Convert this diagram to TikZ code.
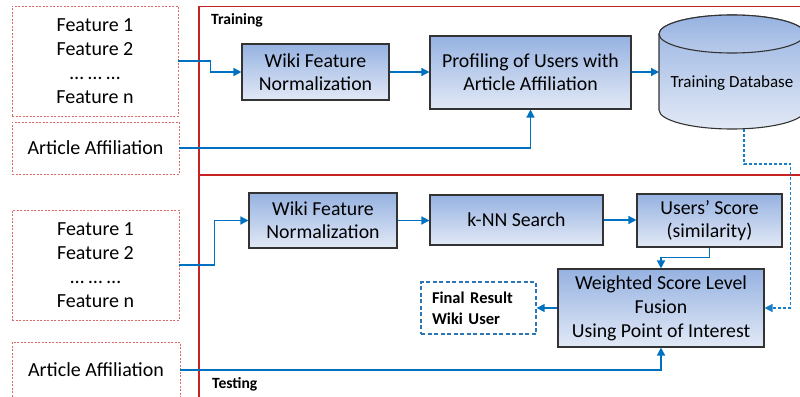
\documentclass[tikz,border=0pt]{standalone}
\usepackage{fontspec}
\setmainfont{Carlito}
\usetikzlibrary{arrows.meta}
\definecolor{connc}{RGB}{0,112,192}
\definecolor{framec}{RGB}{200,35,35}
\definecolor{dashred}{RGB}{222,105,105}
\definecolor{boxtop}{RGB}{150,178,225}
\definecolor{boxbot}{RGB}{226,233,246}
\definecolor{finalc}{RGB}{46,117,182}
\begin{document}
\begin{tikzpicture}[x=1pt,y=-1pt,
  procbox/.style={draw=black!80, line width=1.1pt, top color=boxtop, bottom color=boxbot,
    align=center, font=\fontsize{19.8}{23}\selectfont, inner sep=0pt},
  inbox/.style={draw=dashred, dash pattern=on 2pt off 1.5pt, line width=0.9pt,
    align=center, font=\fontsize{20}{24}\selectfont, inner sep=0pt},
  connector/.style={draw=connc, line width=1.4pt, -{Triangle[length=8pt,width=8pt]}},
  dbline/.style={draw=connc!90!white, line width=1.4pt, dash pattern=on 3pt off 2pt,
    -{Triangle[length=8pt,width=8pt]}},
  framel/.style={draw=framec, line width=1.4pt},
  seclabel/.style={anchor=west, font=\fontsize{15.6}{18}\selectfont\bfseries, inner sep=0pt}
]
\useasboundingbox (0,0) rectangle (800,396);
\clip (0,0) rectangle (800,396);

% frames
\draw[framel] (199,400) -- (199,6.5) -- (810,6.5);
\draw[framel] (199,175) -- (810,175);
\node[seclabel] (trainlbl) at (211,20) {Training};
\node[seclabel] (testlbl) at (212,384) {Testing};

% inputs
\node[inbox, minimum width=166pt, minimum height=110pt] (feat1) at (95,61)
  {Feature 1\\Feature 2\\… … …\\Feature n};
\node[inbox, minimum width=167pt, minimum height=52pt] (art1) at (95.5,148) {Article Affiliation};
\node[inbox, minimum width=167pt, minimum height=110pt] (feat2) at (95.5,265)
  {Feature 1\\Feature 2\\… … …\\Feature n};
\node[inbox, minimum width=168pt, minimum height=56pt] (art2) at (96,370) {Article Affiliation};

% training boxes
\node[procbox, minimum width=147pt, minimum height=56pt] (wfn1) at (315.5,72)
  {Wiki Feature\\Normalization};
\node[procbox, minimum width=201pt, minimum height=73pt] (prof) at (530.5,72.5)
  {Profiling of Users with\\Article Affiliation};

% database cylinder
\path[top color=boxtop, bottom color=boxbot, draw=black!80, line width=1.1pt]
  (659,34) -- (659,110) arc[start angle=180, end angle=0, x radius=73, y radius=19]
  -- (805,34) arc[start angle=0, end angle=-180, x radius=73, y radius=19] -- cycle;
\path[top color=boxtop, bottom color=boxtop!55!boxbot, draw=black!80, line width=1.1pt]
  (659,34) arc[start angle=180, end angle=-180, x radius=73, y radius=19];
\node[font=\fontsize{17}{20}\selectfont, inner sep=0pt] (db) at (732,83) {Training Database};
\coordinate (dbin) at (659,72);
\coordinate (dbout) at (744,129);

% testing boxes
\node[procbox, minimum width=148pt, minimum height=55pt] (wfn2) at (323,220.5)
  {Wiki Feature\\Normalization};
\node[procbox, minimum width=173pt, minimum height=50pt] (knn) at (516.5,220) {k-NN Search};
\node[procbox, minimum width=145pt, minimum height=53pt] (users) at (709.5,220.5)
  {Users’ Score\\(similarity)};
\node[procbox, minimum width=206pt, minimum height=78pt, font=\fontsize{19.8}{24}\selectfont] (weighted) at (661,308)
  {Weighted Score Level\\Fusion\\Using Point of Interest};
\node[draw=finalc, line width=1.3pt, dash pattern=on 4pt off 2.5pt, minimum width=115pt, minimum height=52pt,
  text width=93pt, align=left, inner sep=0pt, font=\fontsize{16.5}{21}\selectfont\bfseries] (final) at (478.5,308)
  {Final Result\\Wiki User};

% connectors training
\draw[connector] (feat1.east) -- ++(32,0) |- (wfn1.west);
\draw[connector] (wfn1.east) -- (prof.west |- wfn1.east);
\draw[connector] (prof.east |- dbin) -- (dbin);
\draw[connector] (art1.east) -| (prof.south);
\draw[dbline] (dbout) -- ++(0,35) -| ([xshift=26pt]weighted.east) -- (weighted.east);

% connectors testing
\draw[connector] (feat2.east) -- ++(35,0) |- (wfn2.west);
\draw[connector] (wfn2.east) -- (knn.west |- wfn2.east);
\draw[connector] (knn.east) -- (users.west |- knn.east);
\draw[connector] (users.south) -- ++(0,10) -| (weighted.north);
\draw[connector] (weighted.west) -- (final.east);
\draw[connector] (art2.east) -| (weighted.south);
\end{tikzpicture}
\end{document}
